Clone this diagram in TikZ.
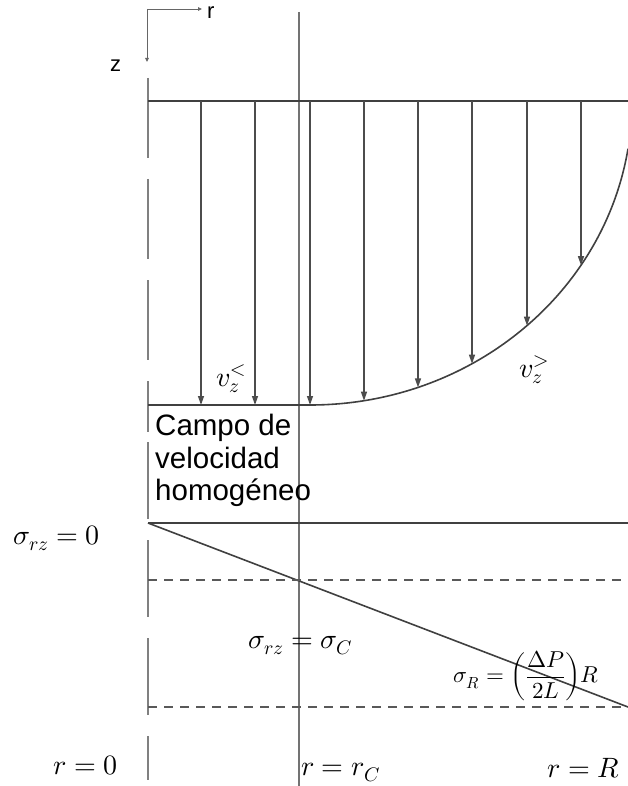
\documentclass[tikz,border=0pt]{standalone}
\usepackage{fontspec}
\setmainfont{Liberation Sans}
\usepackage{unicode-math}
\usetikzlibrary{arrows.meta}

\begin{document}
\begin{tikzpicture}[x=1pt,y=-1pt,
  wall/.style={draw=black!55,line width=2.2pt},
  axisdash/.style={draw=black!50,line width=2.2pt,dash pattern=on 80pt off 21pt},
  level/.style={draw=black!75,line width=1.6pt},
  hdash/.style={draw=black!65,line width=1.4pt,dash pattern=on 9pt off 7pt},
  vel/.style={draw=black!70,line width=1.3pt,-{Triangle[length=9pt,width=6pt]}},
  ax/.style={draw=black!60,line width=0.9pt,-{Triangle[length=4pt,width=3.5pt]}},
  lab/.style={inner sep=0pt,font=\fontsize{28}{32}\selectfont},
  txt/.style={inner sep=0pt,font=\fontsize{29.5}{32.5}\selectfont,align=left}]
\useasboundingbox (0,0) rectangle (628,786);
% ejes r, z
\coordinate (ax0) at (147,9);
\coordinate (axr) at (202,9);
\coordinate (axz) at (147,62);
\draw[ax] (ax0) -- (axr);
\draw[ax] (ax0) -- (axz);
\node[inner sep=0pt,font=\fontsize{22}{24}\selectfont,anchor=base west] (lr) at (207,19) {r};
\node[inner sep=0pt,font=\fontsize{22}{24}\selectfont,anchor=base west] (lz) at (110,72) {z};
% eje r = 0 y r = r_C
\coordinate (c0) at (148,78);
\coordinate (c1) at (148,432);
\coordinate (c2) at (148,442);
\coordinate (c3) at (148,780);
\draw[axisdash] (c0) -- (c1);
\draw[axisdash,dash pattern=on 77pt off 21pt] (c2) -- (c3);
\coordinate (rc0) at (299,12);
\coordinate (rc1) at (299,786);
\draw[wall] (rc0) -- (rc1);
% perfil de velocidad
\coordinate (top0) at (148,101);
\coordinate (top1) at (628,101);
\coordinate (base0) at (148,405);
\coordinate (baseC) at (310,405);
\draw[level,line width=2pt] (top0) -- (top1);
\draw[level] (base0) -- (baseC) arc[start angle=90,end angle=9.04,x radius=322,y radius=304];
\foreach \x/\y in {201/405,255/405,310/405,364/400.7,418/387.4,472/363.7,527/325.6,581/265.2}
  \draw[vel] (\x,101) -- (\x,\y);
\node[lab,anchor=base west] (vin) at (216,386) {$v_z^{<}$};
\node[lab,anchor=base west] (vout) at (519,377) {$v_z^{>}$};
\node[txt,anchor=north west] (campo) at (155,414) {Campo de\\velocidad\\homogéneo};
% esfuerzo
\coordinate (s0) at (148,523);
\coordinate (s1) at (628,523);
\coordinate (sR) at (628,707);
\coordinate (d0) at (148,580);
\coordinate (d1) at (628,580);
\coordinate (d2) at (148,707);
\draw[level,line width=2pt] (s0) -- (s1);
\draw[level] (s0) -- (sR);
\draw[hdash] (d0) -- (d1);
\draw[hdash] (d2) -- (sR);
\node[lab,anchor=base west] (sig0) at (13,544) {$\sigma_{rz}=0$};
\node[lab,anchor=base west] (sigC) at (248,648) {$\sigma_{rz}=\sigma_C$};
\node[lab,font=\fontsize{23}{26}\selectfont,anchor=east] (sigR) at (599,676) {$\sigma_R=\displaystyle\left(\frac{\Delta P}{2L}\right)\!R$};
\node[lab,anchor=base east] (r0) at (118,774) {$r=0$};
\node[lab,anchor=base west] (rC) at (301,775) {$r=r_C$};
\node[lab,anchor=base east] (rR) at (620,777) {$r=R$};
\end{tikzpicture}
\end{document}
